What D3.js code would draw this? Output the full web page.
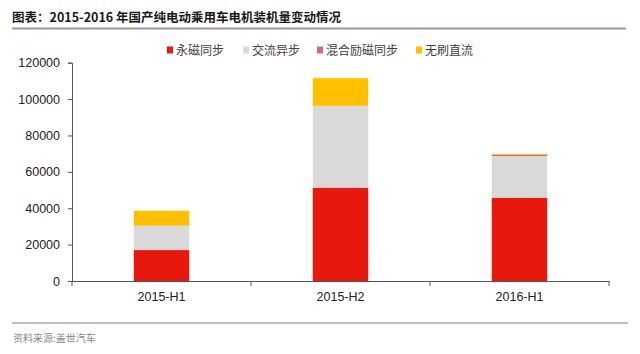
<!DOCTYPE html>
<html>
<head>
<meta charset="utf-8">
<script src="https://cdn.jsdelivr.net/npm/d3@7"></script>
<style>
  body { margin: 0; background: #fff; }
  svg { display: block; font-family: "Liberation Sans", Arial, sans-serif; }
  .title { font-family: "Noto Sans CJK SC", sans-serif; font-weight: bold; font-size: 12.5px; fill: #1a1a1a; }
  .legend text { font-family: "Noto Sans CJK SC", sans-serif; font-size: 12px; fill: #404040; }
  .source { font-family: "Noto Sans CJK SC", sans-serif; font-size: 10px; fill: #8a8a8a; }
  .tick text { font-size: 12.5px; fill: #222; }
</style>
</head>
<body>
<svg width="640" height="354"></svg>
<script>
const categories = ['2015-H1', '2015-H2', '2016-H1'];
const seriesNames = ['永磁同步', '交流异步', '混合励磁同步', '无刷直流'];
const pmsm = [17000, 51300, 45800];
const acAsync = [13400, 45000, 22900];
const hybrid = [0, 0, 700];
const brushlessDC = [8200, 15200, 500];
const yTicks = [0, 20000, 40000, 60000, 80000, 100000, 120000];
const colors = ['#e8180c', '#d9d9d9', '#d9697a', '#ffc000'];

const svg = d3.select('svg');
const width = +svg.attr('width');
const height = +svg.attr('height');

// title + rules
svg.append('text').attr('class', 'title')
  .attr('x', 12).attr('y', 22)
  .text('图表：2015-2016 年国产纯电动乘用车电机装机量变动情况');
svg.append('line')
  .attr('x1', 12).attr('x2', 626).attr('y1', 28.5).attr('y2', 28.5)
  .attr('stroke', '#a09494').attr('stroke-width', 2);
svg.append('line')
  .attr('x1', 12).attr('x2', 628).attr('y1', 323).attr('y2', 323)
  .attr('stroke', '#8a7f7f').attr('stroke-width', 1);
svg.append('text').attr('class', 'source')
  .attr('x', 13).attr('y', 342)
  .text('资料来源:盖世汽车');

const margin = { top: 62.7, left: 72, right: 31, bottom: 73 };
const innerWidth = width - margin.left - margin.right;
const innerHeight = 281 - margin.top;

const g = svg.append('g')
  .attr('transform', `translate(${margin.left},${margin.top})`);

const xScale = d3.scaleBand()
  .domain(categories)
  .range([0, innerWidth])
  .paddingInner(0.69)
  .paddingOuter(0.345);

const yScale = d3.scaleLinear()
  .domain([0, 120000])
  .range([innerHeight, 0]);

const table = categories.map((c, i) => ({
  category: c,
  [seriesNames[0]]: pmsm[i],
  [seriesNames[1]]: acAsync[i],
  [seriesNames[2]]: hybrid[i],
  [seriesNames[3]]: brushlessDC[i]
}));

const stacked = d3.stack().keys(seriesNames)(table);

g.selectAll('.series')
  .data(stacked)
  .enter().append('g')
  .attr('class', 'series')
  .attr('fill', (d, i) => colors[i])
  .selectAll('rect')
  .data(d => d)
  .enter().append('rect')
  .attr('x', d => xScale(d.data.category))
  .attr('width', xScale.bandwidth())
  .attr('y', d => yScale(d[1]))
  .attr('height', d => yScale(d[0]) - yScale(d[1]));

// y axis
const yAxisG = g.append('g')
  .call(d3.axisLeft(yScale).tickValues(yTicks).tickFormat(d3.format('d')).tickSize(4).tickPadding(8));
yAxisG.selectAll('line, path').attr('stroke', '#555');

// x axis: ticks at category boundaries
const xAxisG = g.append('g')
  .attr('transform', `translate(0,${innerHeight})`)
  .call(d3.axisBottom(xScale).tickSize(0).tickPadding(11));
xAxisG.select('.domain').attr('stroke', '#555');
xAxisG.selectAll('.boundary')
  .data(d3.range(categories.length + 1))
  .enter().append('line')
  .attr('x1', i => i * innerWidth / categories.length)
  .attr('x2', i => i * innerWidth / categories.length)
  .attr('y1', 0).attr('y2', 5)
  .attr('stroke', '#555');

// legend
const legendX = [167, 243, 317, 416];
const legend = svg.append('g').attr('class', 'legend');
seriesNames.forEach((name, i) => {
  legend.append('rect')
    .attr('x', legendX[i]).attr('y', 46.5)
    .attr('width', 6).attr('height', 7)
    .attr('fill', colors[i]);
  legend.append('text')
    .attr('x', legendX[i] + 9).attr('y', 54.5)
    .text(name);
});
</script>
</body>
</html>
